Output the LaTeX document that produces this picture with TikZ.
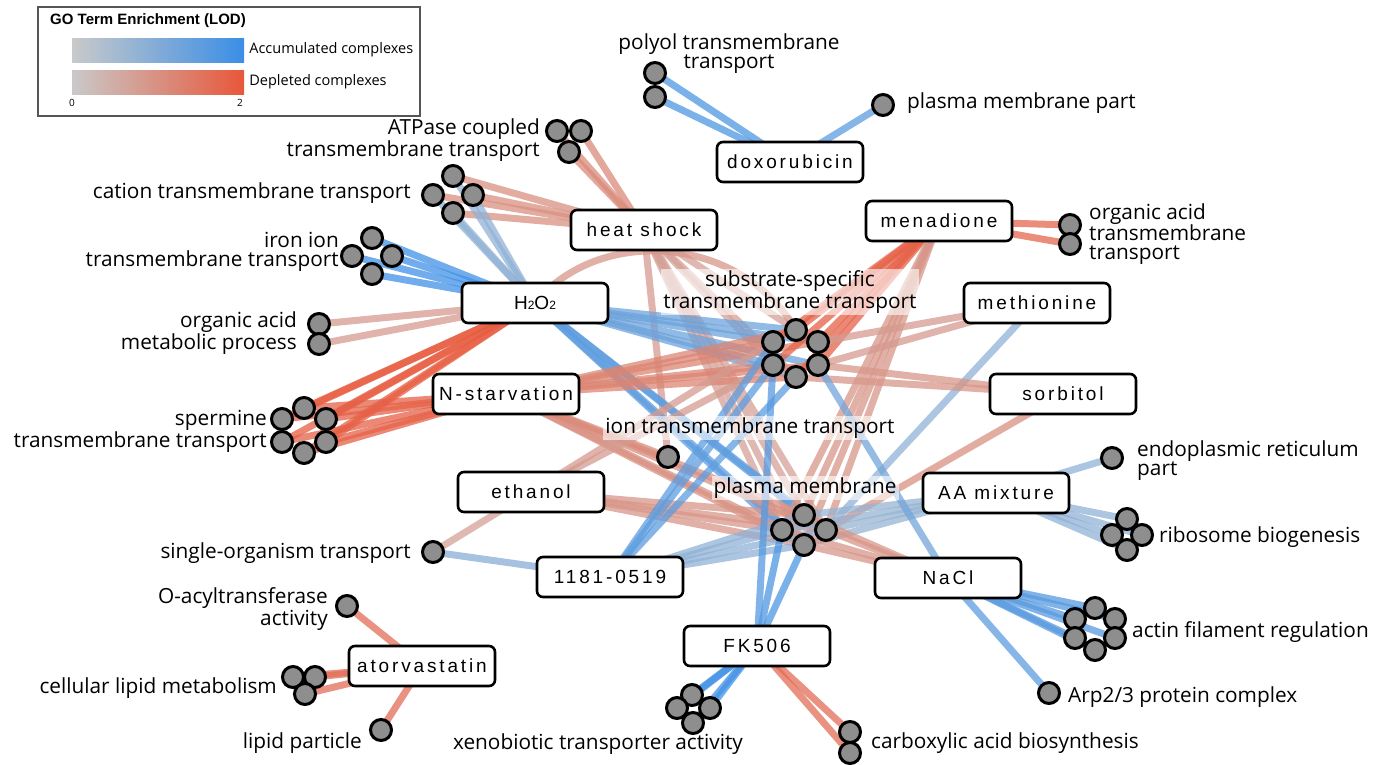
\documentclass[tikz,border=0pt]{standalone}
\usepackage{fontspec}
\newfontfamily\condfont[LetterSpace=15]{Liberation Sans}
\newfontfamily\termfont{Open Sans}
\newfontfamily\legfont{Liberation Sans}
\usepackage{tikz}
\usetikzlibrary{positioning}
\definecolor{LodGray}{HTML}{C9C9C9}
\definecolor{AccBlue}{HTML}{3A8EE6}
\definecolor{DepRed}{HTML}{E8573A}
\definecolor{TermGray}{HTML}{8E8E8E}
\definecolor{LegEdge}{HTML}{555555}
\pgfdeclarelayer{edges}
\pgfsetlayers{edges,main}
\tikzset{
  acc/.style={line width=7pt,draw=AccBlue!#1!LodGray,opacity=.75},
  dep/.style={line width=7pt,draw=DepRed!#1!LodGray,opacity=.75}
}

\begin{document}
\begin{tikzpicture}[x=1pt,y=-1pt,
    cond/.style={draw,rounded corners=6pt,line width=2.6pt,fill=white,minimum width=146pt,minimum height=40pt,
      inner sep=2pt,font=\condfont\fontsize{19}{20}\selectfont},
    term/.style={circle,draw,fill=TermGray,line width=3pt,minimum size=21pt,inner sep=0pt},
    termlabel/.style={font=\termfont\fontsize{20.8}{19}\selectfont,inner sep=1pt},
    haze/.style={fill=white,fill opacity=.6,text opacity=1,inner sep=2pt},
    legbar/.style={minimum width=172pt,minimum height=24pt,inner sep=0pt,left color=LodGray},
    legtext/.style={font=\termfont\fontsize{14.5}{16}\selectfont,anchor=west,inner sep=0pt}
  ]
  \useasboundingbox (0,0) rectangle (1373,764);

  % legend
  \node[draw=LegEdge,line width=1.2pt,minimum width=382pt,minimum height=109pt,inner sep=0pt] (legend) at (229,61.5) {};
  \node[font=\legfont\bfseries\fontsize{15}{16}\selectfont,anchor=west,inner sep=0pt] (legtitle) at (50,21) {GO Term Enrichment (LOD)};
  \node[legbar,right color=AccBlue] (accbar) at (158,50) {};
  \node[legbar,right color=DepRed] (depbar) at (158,82) {};
  \node[legtext,right=5pt of accbar] (acclab) {Accumulated complexes};
  \node[legtext,right=5pt of depbar] (deplab) {Depleted complexes};
  \node[font=\termfont\fontsize{10}{10}\selectfont] (lodmin) at (72,103) {0};
  \node[font=\termfont\fontsize{10}{10}\selectfont] (lodmax) at (240,103) {2};

  % conditions
  \node[cond] (doxo) at (790,162) {doxorubicin};
  \node[cond] (heat) at (644,230) {heat shock};
  \node[cond] (mena) at (939,221) {menadione};
  \node[cond] (hoo) at (535,303) {H{\fontsize{12}{12}\selectfont 2}O{\fontsize{12}{12}\selectfont 2}};
  \node[cond] (meth) at (1037,303) {methionine};
  \node[cond] (nstarv) at (506,394) {N-starvation};
  \node[cond] (sorb) at (1063,394) {sorbitol};
  \node[cond] (etoh) at (531,492) {ethanol};
  \node[cond] (aamix) at (996,493) {AA mixture};
  \node[cond] (cmpd) at (610,577) {1181-0519};
  \node[cond] (nacl) at (948,578) {NaCl};
  \node[cond] (fk) at (757,646) {FK506};
  \node[cond] (ator) at (422,666) {atorvastatin};

  % GO term clusters
  \foreach \n/\x/\y in {1/655/73,2/655/97} \node[term] (poly\n) at (\x,\y) {};
  \node[term] (pmp) at (883,105) {};
  \foreach \n/\x/\y in {1/557/131,2/581/131,3/569/152} \node[term] (atp\n) at (\x,\y) {};
  \foreach \n/\x/\y in {1/453/176,2/433/195,3/473/195,4/453/213} \node[term] (cat\n) at (\x,\y) {};
  \foreach \n/\x/\y in {1/372/238,2/352/256,3/392/256,4/372/274} \node[term] (iron\n) at (\x,\y) {};
  \foreach \n/\x/\y in {1/319/324,2/319/344} \node[term] (oam\n) at (\x,\y) {};
  \foreach \n/\x/\y in {1/304/408,2/282/419,3/326/419,4/282/442,5/326/442,6/304/453} \node[term] (spm\n) at (\x,\y) {};
  \foreach \n/\x/\y in {1/1070/225,2/1070/244} \node[term] (oat\n) at (\x,\y) {};
  \foreach \n/\x/\y in {1/796/330,2/773/342,3/818/342,4/773/365,5/818/365,6/796/377} \node[term] (ss\n) at (\x,\y) {};
  \node[term] (itt) at (668,457) {};
  \foreach \n/\x/\y in {1/804/515,2/782/530,3/826/530,4/804/545} \node[term] (pm\n) at (\x,\y) {};
  \node[term] (er) at (1112,458) {};
  \foreach \n/\x/\y in {1/1127/519,2/1112/535,3/1142/535,4/1127/550} \node[term] (ribo\n) at (\x,\y) {};
  \foreach \n/\x/\y in {1/1095/608,2/1075/619,3/1115/619,4/1075/638,5/1115/638,6/1095/650} \node[term] (actin\n) at (\x,\y) {};
  \node[term] (arp) at (1049,693) {};
  \node[term] (sot) at (433,552) {};
  \node[term] (oacyl) at (347,606) {};
  \foreach \n/\x/\y in {1/293/677,2/315/677,3/305/694} \node[term] (clm\n) at (\x,\y) {};
  \node[term] (lip) at (381,730) {};
  \foreach \n/\x/\y in {1/692/695,2/677/708,3/710/708,4/693/723} \node[term] (xeno\n) at (\x,\y) {};
  \foreach \n/\x/\y in {1/850/732,2/850/753} \node[term] (carb\n) at (\x,\y) {};

  % GO term labels
  \node[termlabel,align=center] (polylab) at (729,54) {polyol transmembrane\\transport};
  \node[termlabel,anchor=west] (pmplab) at (906,103) {plasma membrane part};
  \node[termlabel,align=right,anchor=east] (atplab) at (541,140) {ATPase coupled\\transmembrane transport};
  \node[termlabel,anchor=east] (catlab) at (412,193) {cation transmembrane transport};
  \node[termlabel,align=right,anchor=east] (ironlab) at (340,252) {iron ion\\transmembrane transport};
  \node[termlabel,align=right,anchor=east] (oamlab) at (298,333) {organic acid\\metabolic process};
  \node[termlabel,align=right,anchor=east] (spmlab) at (268,431) {spermine\\transmembrane transport};
  \node[termlabel,align=left,anchor=west] (oatlab) at (1088,234) {organic acid\\transmembrane\\transport};
  \node[termlabel,haze,align=center] (sslab) at (790,292) {substrate-specific\\transmembrane transport};
  \node[termlabel,haze] (ittlab) at (750,428) {ion transmembrane transport};
  \node[termlabel,haze] (pmlab) at (805,488) {plasma membrane};
  \node[termlabel,align=left,anchor=west] (erlab) at (1136,461) {endoplasmic reticulum\\part};
  \node[termlabel,anchor=west] (ribolab) at (1158,537) {ribosome biogenesis};
  \node[termlabel,anchor=west] (actinlab) at (1131,632) {actin filament regulation};
  \node[termlabel,anchor=west] (arplab) at (1067,697) {Arp2/3 protein complex};
  \node[termlabel,anchor=east] (sotlab) at (412,553) {single-organism transport};
  \node[termlabel,align=right,anchor=east] (oacyllab) at (329,609) {O-acyltransferase\\activity};
  \node[termlabel,anchor=east] (clmlab) at (278,688) {cellular lipid metabolism};
  \node[termlabel,anchor=east] (liplab) at (363,743) {lipid particle};
  \node[termlabel] (xenolab) at (598,744) {xenobiotic transporter activity};
  \node[termlabel,anchor=west] (carblab) at (870,743) {carboxylic acid biosynthesis};

  \begin{pgfonlayer}{edges}
    % doxorubicin, heat shock
    \foreach \i in {1,2} \draw[acc=85] (doxo.center) -- (poly\i.center);
    \draw[acc=75] (doxo.center) -- (pmp.center);
    \foreach \i in {1,2,3} \draw[dep=55] (heat.center) -- (atp\i.center);
    \foreach \i in {1,...,4} \draw[dep=50] (heat.center) -- (cat\i.center);
    \foreach \i in {1,4,6} \draw[dep=35] (heat.center) -- (ss\i.center);
    \foreach \i in {1,...,4} \draw[dep=35] (heat.center) -- (pm\i.center);
    \draw[dep=40] (heat.center) -- (itt.center);
    % H2O2
    \foreach \i in {1,...,4} \draw[acc=95] (hoo.center) -- (iron\i.center);
    \foreach \i in {1,...,4} \draw[acc=40] (hoo.center) -- (cat\i.center);
    \foreach \i in {1,2} \draw[dep=40] (hoo.center) -- (oam\i.center);
    \foreach \i in {1,...,6} \draw[dep=95] (hoo.center) -- (spm\i.center);
    \foreach \i in {1,...,6} \draw[acc=65] (hoo.center) -- (ss\i.center);
    \foreach \i in {1,...,4} \draw[acc=75] (hoo.center) -- (pm\i.center);
    \draw[dep=45] (hoo.center) .. controls (600,225) and (740,235) .. (ss1.center);
    % N-starvation
    \foreach \i in {1,...,6} \draw[dep=90] (nstarv.center) -- (spm\i.center);
    \foreach \i in {1,...,6} \draw[dep=60] (nstarv.center) -- (ss\i.center);
    \foreach \i in {1,...,4} \draw[dep=50] (nstarv.center) -- (pm\i.center);
    \draw[dep=55] (nstarv.center) -- (itt.center);
    % menadione, methionine, sorbitol
    \foreach \i in {1,2} \draw[dep=85] (mena.center) -- (oat\i.center);
    \foreach \i in {1,...,6} \draw[dep=90] (mena.center) -- (ss\i.center);
    \foreach \i in {1,...,4} \draw[dep=45] (mena.center) -- (pm\i.center);
    \foreach \i in {3,5} \draw[dep=40] (meth.center) -- (ss\i.center);
    \draw[acc=40] (meth.center) -- (pm3.center);
    \foreach \i in {5,6} \draw[dep=45] (sorb.center) -- (ss\i.center);
    \draw[dep=50] (sorb.center) -- (pm3.center);
    % ethanol, AA mixture, 1181-0519
    \draw[dep=35] (etoh.center) -- (sot.center);
    \foreach \i in {1,...,4} \draw[dep=45] (etoh.center) -- (pm\i.center);
    \foreach \i in {2,4} \draw[dep=40] (etoh.center) -- (ss\i.center);
    \draw[acc=40] (aamix.center) -- (er.center);
    \foreach \i in {1,...,4} \draw[acc=40] (aamix.center) -- (ribo\i.center);
    \foreach \i in {1,...,4} \draw[acc=35] (aamix.center) -- (pm\i.center);
    \draw[acc=45] (cmpd.center) -- (sot.center);
    \foreach \i in {1,...,4} \draw[acc=40] (cmpd.center) -- (pm\i.center);
    \foreach \i in {2,4,6} \draw[acc=75] (cmpd.center) -- (ss\i.center);
    % NaCl, FK506, atorvastatin
    \foreach \i in {1,...,6} \draw[acc=80] (nacl.center) -- (actin\i.center);
    \draw[acc=75] (nacl.center) -- (arp.center);
    \foreach \i in {1,...,4} \draw[dep=45] (nacl.center) -- (pm\i.center);
    \draw[acc=60] (nacl.center) -- (ss5.center);
    \foreach \i in {1,...,4} \draw[acc=95] (fk.center) -- (xeno\i.center);
    \foreach \i in {1,2} \draw[dep=80] (fk.center) -- (carb\i.center);
    \foreach \i in {2,4} \draw[acc=85] (fk.center) -- (pm\i.center);
    \draw[acc=80] (fk.center) -- (ss4.center);
    \draw[dep=80] (ator.center) -- (oacyl.center);
    \foreach \i in {1,2,3} \draw[dep=80] (ator.center) -- (clm\i.center);
    \draw[dep=80] (ator.center) -- (lip.center);
  \end{pgfonlayer}
\end{tikzpicture}
\end{document}
